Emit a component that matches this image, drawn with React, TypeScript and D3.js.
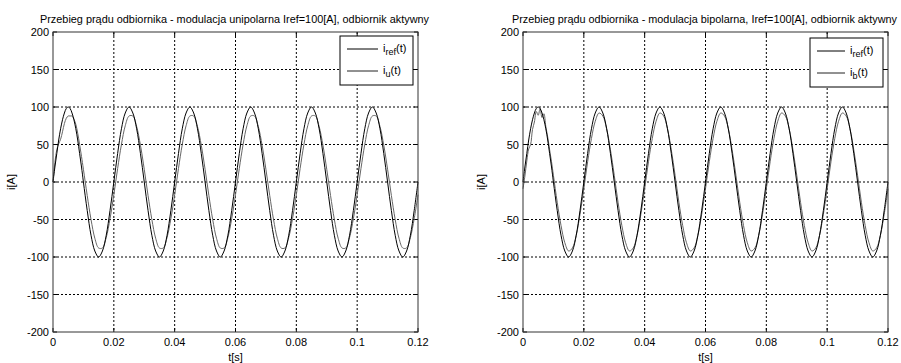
import React from 'react';
import * as d3 from 'd3';

// sample times [s]: fine step over the first half-period, then 0.00125 s
const tSec = [
  ...d3.range(0, 0.0100001, 0.000625),
  ...d3.range(0.01125, 0.1200001, 0.00125),
];

// reference current i_ref(t) [A]
const iRef = [
  0, 20, 38, 56, 71, 83, 92, 98, 100, 98, 92, 83, 71, 56, 38, 20, 0,
  -38, -71, -92, -100, -92, -71, -38,
  0, 38, 71, 92, 100, 92, 71, 38, 0, -38, -71, -92, -100, -92, -71, -38,
  0, 38, 71, 92, 100, 92, 71, 38, 0, -38, -71, -92, -100, -92, -71, -38,
  0, 38, 71, 92, 100, 92, 71, 38, 0, -38, -71, -92, -100, -92, -71, -38,
  0, 38, 71, 92, 100, 92, 71, 38, 0, -38, -71, -92, -100, -92, -71, -38,
  0, 38, 71, 92, 100, 92, 71, 38, 0, -38, -71, -92, -100, -92, -71, -38,
  0,
];

// unipolar modulation, load current i_u(t) [A]
const iU = [
  0, 26, 43, 51, 57, 67, 78, 85, 88, 88, 88, 84, 77, 65, 50, 34, 17,
  -18, -50, -75, -88, -88, -74, -49,
  -17, 18, 50, 75, 88, 88, 74, 49, 17, -18, -50, -75, -88, -88, -74, -49,
  -17, 18, 50, 75, 88, 88, 74, 49, 17, -18, -50, -75, -88, -88, -74, -49,
  -17, 18, 50, 75, 88, 88, 74, 49, 17, -18, -50, -75, -88, -88, -74, -49,
  -17, 18, 50, 75, 88, 88, 74, 49, 17, -18, -50, -75, -88, -88, -74, -49,
  -17, 18, 50, 75, 88, 88, 74, 49, 17, -18, -50, -75, -88, -88, -74, -49,
  -17,
];

// bipolar modulation, load current i_b(t) [A]
const iB = [
  -9, 8, 28, 44, 50, 70, 80, 94, 89, 98, 86, 91, 74, 60, 43, 27, 9,
  -27, -58, -81, -92, -88, -71, -43,
  -9, 27, 58, 81, 92, 88, 71, 43, 9, -27, -58, -81, -92, -88, -71, -43,
  -9, 27, 58, 81, 92, 88, 71, 43, 9, -27, -58, -81, -92, -88, -71, -43,
  -9, 27, 58, 81, 92, 88, 71, 43, 9, -27, -58, -81, -92, -88, -71, -43,
  -9, 27, 58, 81, 92, 88, 71, 43, 9, -27, -58, -81, -92, -88, -71, -43,
  -9, 27, 58, 81, 92, 88, 71, 43, 9, -27, -58, -81, -92, -88, -71, -43,
  -9,
];

const xTicks = [0, 0.02, 0.04, 0.06, 0.08, 0.1, 0.12];
const yTicks = [-200, -150, -100, -50, 0, 50, 100, 150, 200];

const FONT = '"Liberation Sans", Arial, sans-serif';
const REF_COLOR = '#000';
const MEAS_COLOR = '#666';

type PanelProps = {
  x0: number;
  x1: number;
  title: string;
  titleW: number;
  measured: number[];
  sub: string;
  legendX: number;
  legendY: number;
  lineLen: number;
};

function Panel({ x0, x1, title, titleW, measured, sub, legendX, legendY, lineLen }: PanelProps) {
  const top = 32;
  const bottom = 332;
  const x = d3.scaleLinear().domain([0, 0.12]).range([x0, x1]);
  const y = d3.scaleLinear().domain([-200, 200]).range([bottom, top]);
  const line = d3.line<number>().x((_, i) => x(tSec[i])).y(d => y(d)).curve(d3.curveCatmullRom);
  const fmt = (v: number) => String(+v.toFixed(2));
  const cx = (x0 + x1) / 2;
  const lw = 73;
  const lh = 49;
  return (
    <g fontFamily={FONT}>
      <text x={cx - 1} y={23} fontSize={11} textAnchor="middle" fill="#000" textLength={titleW} lengthAdjust="spacingAndGlyphs">{title}</text>
      {/* grid */}
      {xTicks.slice(1, -1).map(t => (
        <line key={'gx' + t} x1={x(t)} x2={x(t)} y1={top} y2={bottom} stroke="#000" strokeDasharray="2,2" />
      ))}
      {yTicks.slice(1, -1).map(v => (
        <line key={'gy' + v} x1={x0} x2={x1} y1={y(v)} y2={y(v)} stroke="#000" strokeDasharray="2,2" />
      ))}
      {/* ticks */}
      {xTicks.map(t => (
        <g key={'tx' + t}>
          <line x1={x(t)} x2={x(t)} y1={bottom} y2={bottom - 4} stroke="#000" />
          <line x1={x(t)} x2={x(t)} y1={top} y2={top + 4} stroke="#000" />
          <text x={x(t)} y={346} fontSize={11} textAnchor="middle" fill="#000">{fmt(t)}</text>
        </g>
      ))}
      {yTicks.map(v => (
        <g key={'ty' + v}>
          <line x1={x0} x2={x0 + 4} y1={y(v)} y2={y(v)} stroke="#000" />
          <line x1={x1} x2={x1 - 4} y1={y(v)} y2={y(v)} stroke="#000" />
          <text x={x0 - 4} y={y(v) + 4} fontSize={11} textAnchor="end" fill="#000">{v}</text>
        </g>
      ))}
      {/* curves */}
      <path d={line(measured) || ''} fill="none" stroke={MEAS_COLOR} strokeWidth={1} />
      <path d={line(iRef) || ''} fill="none" stroke={REF_COLOR} strokeWidth={1} />
      {/* frame */}
      <rect x={x0} y={top} width={x1 - x0} height={bottom - top} fill="none" stroke="#333" />
      {/* axis labels */}
      <text x={cx} y={361} fontSize={11} textAnchor="middle" fill="#000">t[s]</text>
      <text transform={`translate(${x0 - 38},${(top + bottom) / 2}) rotate(-90)`} fontSize={11} textAnchor="middle" fill="#000">i[A]</text>
      {/* legend */}
      <rect x={legendX} y={legendY} width={lw} height={lh} fill="#fff" stroke="#000" />
      <line x1={legendX + 7} x2={legendX + 7 + lineLen} y1={legendY + 13} y2={legendY + 13} stroke={REF_COLOR} />
      <line x1={legendX + 7} x2={legendX + 7 + lineLen} y1={legendY + 35} y2={legendY + 35} stroke="#222" />
      <text x={legendX + 12 + lineLen} y={legendY + 16} fontSize={11} fill="#000">
        i<tspan dy={3} fontSize={9}>ref</tspan><tspan dy={-3}>(t)</tspan>
      </text>
      <text x={legendX + 12 + lineLen} y={legendY + 38} fontSize={11} fill="#000">
        i<tspan dy={3} fontSize={9}>{sub}</tspan><tspan dy={-3}>(t)</tspan>
      </text>
    </g>
  );
}

export default function App() {
  return (
    <svg width={901} height={363} style={{ position: 'absolute', left: 0, top: 0, background: '#fff' }}>
      <rect width={901} height={363} fill="#fff" />
      <Panel
        x0={53}
        x1={418}
        title="Przebieg prądu odbiornika - modulacja unipolarna Iref=100[A], odbiornik aktywny"
        titleW={389}
        measured={iU}
        sub="u"
        legendX={340}
        legendY={36}
        lineLen={31}
      />
      <Panel
        x0={523}
        x1={888}
        title="Przebieg prądu odbiornika - modulacja bipolarna, Iref=100[A], odbiornik aktywny"
        titleW={385}
        measured={iB}
        sub="b"
        legendX={810}
        legendY={38}
        lineLen={28}
      />
    </svg>
  );
}
